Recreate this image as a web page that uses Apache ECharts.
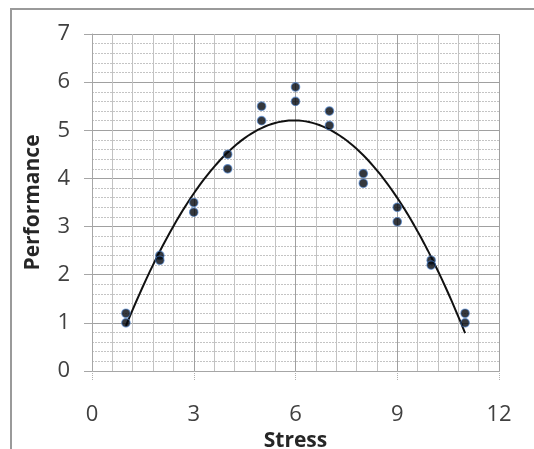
<!DOCTYPE html>
<html>
<head>
<meta charset="utf-8">
<script src="https://cdn.jsdelivr.net/npm/echarts@6/dist/echarts.min.js"></script>
<style>
  html, body { margin: 0; padding: 0; background: #fff; }
  #chart { width: 534px; height: 449px; }
</style>
</head>
<body>
<div id="chart"></div>
<script>
// Observations: stress level and measured performance
const stress = [1, 1, 2, 2, 3, 3, 4, 4, 5, 5, 6, 6, 7, 7, 8, 8, 9, 9, 10, 10, 11, 11];
const performance = [1.2, 1.0, 2.4, 2.3, 3.5, 3.3, 4.5, 4.2, 5.5, 5.2, 5.9, 5.6, 5.4, 5.1, 4.1, 3.9, 3.4, 3.1, 2.3, 2.2, 1.2, 1.0];

const xTicks = [0, 3, 6, 9, 12];
const yTicks = [0, 1, 2, 3, 4, 5, 6, 7];

// Least-squares quadratic trendline (y = a + b x + c x^2) fitted to the observations
function quadFit(xs, ys) {
  const n = xs.length;
  let s = [0, 0, 0, 0, 0], t = [0, 0, 0];
  for (let i = 0; i < n; i++) {
    let p = 1;
    for (let k = 0; k <= 4; k++) { s[k] += p; if (k <= 2) t[k] += p * ys[i]; p *= xs[i]; }
  }
  const M = [[s[0], s[1], s[2], t[0]], [s[1], s[2], s[3], t[1]], [s[2], s[3], s[4], t[2]]];
  for (let i = 0; i < 3; i++) {
    for (let j = i + 1; j < 3; j++) {
      const f = M[j][i] / M[i][i];
      for (let k = i; k < 4; k++) M[j][k] -= f * M[i][k];
    }
  }
  const c = [0, 0, 0];
  for (let i = 2; i >= 0; i--) {
    let v = M[i][3];
    for (let k = i + 1; k < 3; k++) v -= M[i][k] * c[k];
    c[i] = v / M[i][i];
  }
  return c;
}
const coef = quadFit(stress, performance);
const xMin = Math.min(...stress), xMax = Math.max(...stress);
const trend = [];
for (let i = 0; i <= 100; i++) {
  const x = xMin + (xMax - xMin) * i / 100;
  trend.push([x, coef[0] + coef[1] * x + coef[2] * x * x]);
}

const points = stress.map((x, i) => [x, performance[i]]);

const chart = echarts.init(document.getElementById('chart'), null, { renderer: 'canvas' });
chart.setOption({
  animation: false,
  backgroundColor: '#ffffff',
  graphic: [{
    type: 'rect',
    shape: { x: 11, y: 9, width: 600, height: 600 },
    style: { fill: 'none', stroke: '#9a9a9a', lineWidth: 2 },
    silent: true
  }],
  grid: { left: 92, right: 35, top: 34, bottom: 78, outerBoundsMode: 'none', containLabel: false },
  xAxis: {
    type: 'value',
    min: xTicks[0],
    max: xTicks[xTicks.length - 1],
    interval: 3,
    name: 'Stress',
    nameLocation: 'middle',
    nameGap: 44,
    nameTextStyle: { fontFamily: 'Open Sans', fontWeight: 'bold', fontSize: 21, color: '#262626' },
    axisLine: { show: true, onZero: false, lineStyle: { color: '#a6a6a6', width: 1 } },
    axisTick: { show: true, length: 9, lineStyle: { color: '#b0b0b0', type: 'dotted' } },
    axisLabel: { margin: 33, fontFamily: 'Open Sans', fontSize: 22, color: '#404040' },
    splitLine: { show: true, lineStyle: { color: '#a0a0a0', width: 1 } },
    minorTick: { show: false, splitNumber: 5 },
    minorSplitLine: { show: true, lineStyle: { color: '#c2c2c2', width: 1 } }
  },
  yAxis: {
    type: 'value',
    min: yTicks[0],
    max: yTicks[yTicks.length - 1],
    interval: 1,
    name: 'Performance',
    nameLocation: 'middle',
    nameGap: 48,
    nameTextStyle: { fontFamily: 'Open Sans', fontWeight: 'bold', fontSize: 21, color: '#262626' },
    axisLine: { show: true, lineStyle: { color: '#a6a6a6', width: 1 } },
    axisTick: { show: true, length: 8, lineStyle: { color: '#a6a6a6' } },
    axisLabel: { margin: 22, fontFamily: 'Open Sans', fontSize: 22, color: '#404040' },
    splitLine: { show: true, lineStyle: { color: '#a0a0a0', width: 1 } },
    minorTick: { show: false, splitNumber: 5 },
    minorSplitLine: { show: true, lineStyle: { color: '#c4c4c4', width: 1, type: [2, 1] } }
  },
  series: [
    {
      type: 'line',
      data: trend,
      showSymbol: false,
      smooth: false,
      lineStyle: { color: '#111111', width: 2 },
      z: 2
    },
    {
      type: 'scatter',
      data: points,
      symbol: 'circle',
      symbolSize: 8.5,
      itemStyle: { color: '#02060c', borderColor: 'rgba(70,125,200,0.8)', borderWidth: 1.2 },
      z: 3
    }
  ]
});
</script>
</body>
</html>
